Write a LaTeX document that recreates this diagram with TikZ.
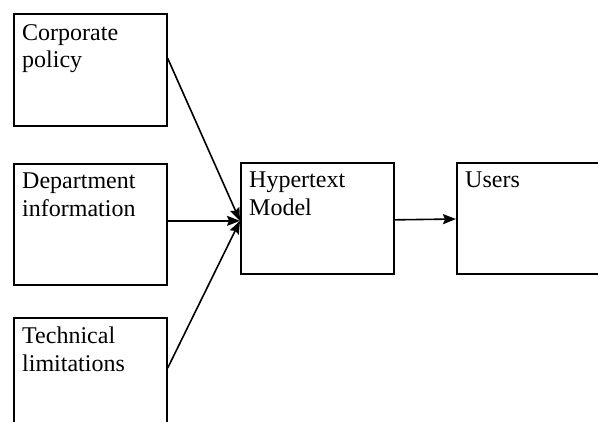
\documentclass[tikz,border=0pt]{standalone}
\usepackage{fontspec}
\setmainfont{Liberation Serif}
\usetikzlibrary{arrows.meta}
\tikzset{
  box/.style={draw, line width=1.7pt, rectangle, anchor=north west, inner sep=0pt},
  lbl/.style={anchor=north west, align=left, inner sep=0pt, font=\fontsize{24}{27.5}\selectfont},
  conn/.style={line width=1.6pt, -{Stealth[length=13pt,width=10pt,inset=2pt]}}
}
\begin{document}
\begin{tikzpicture}[x=1pt,y=-1pt]
\useasboundingbox (0,0) rectangle (598,422);
\clip (0,0) rectangle (598,422);
\node[box, minimum width=153pt, minimum height=112pt] (corp) at (13,13) {};
\node[box, minimum width=153pt, minimum height=121pt] (dept) at (13,163) {};
\node[box, minimum width=153pt, minimum height=160pt] (tech) at (13,317) {};
\node[box, minimum width=153pt, minimum height=111pt] (hyp) at (240,162) {};
\node[box, minimum width=250pt, minimum height=111pt] (users) at (456,162) {};
\node[lbl] (tcorp) at (22,24) {Corporate\\policy};
\node[lbl] (tdept) at (22,173) {Department\\information};
\node[lbl] (ttech) at (22,327) {Technical\\limitations};
\node[lbl] (thyp) at (249,172) {Hypertext\\Model};
\node[lbl] (tusers) at (465,172) {Users};
\coordinate (tip) at ([yshift=-2.5pt]hyp.west);
\draw[conn] ([yshift=11.5pt]corp.east) -- (tip);
\draw[conn] ([yshift=3.5pt]dept.east) -- (tip);
\draw[conn] ([yshift=-1pt]tech.east |- 0,367) -- (tip);
\draw[conn] ([yshift=-1.5pt]hyp.east) -- (users.west |- 0,219);
\end{tikzpicture}
\end{document}
